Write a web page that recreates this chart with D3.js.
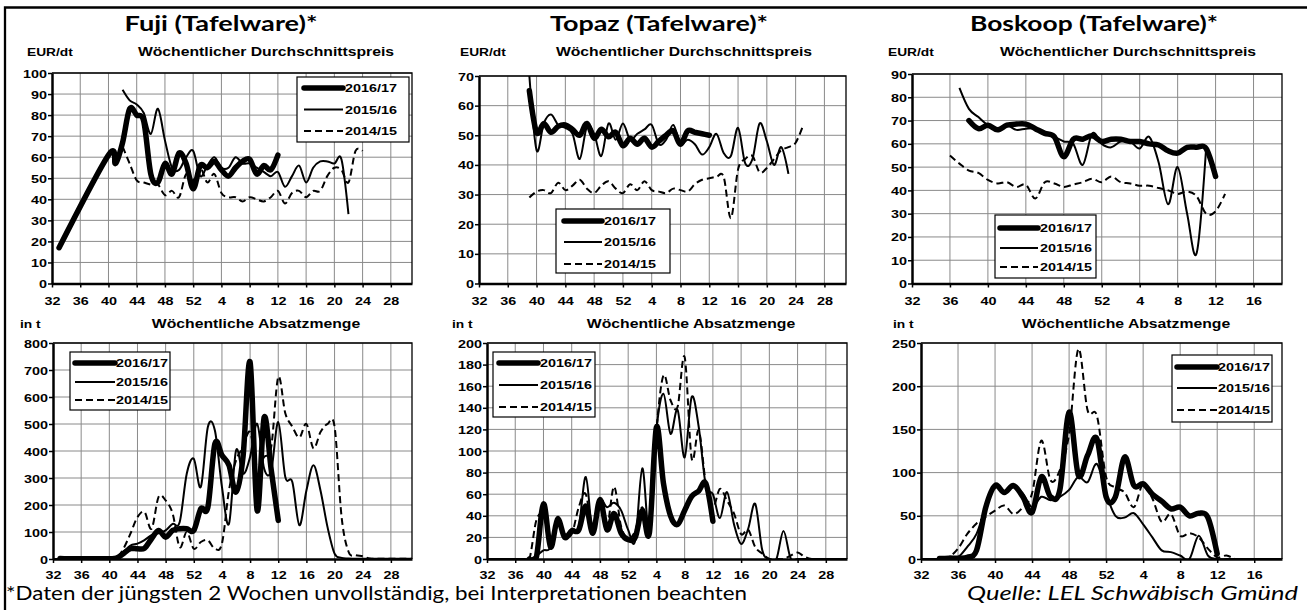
<!DOCTYPE html>
<html><head><meta charset="utf-8">
<script src="https://cdn.jsdelivr.net/npm/d3@7/dist/d3.min.js"></script>
<style>body{margin:0;background:#fff}svg{display:block}</style>
</head><body>
<svg id="c" width="1307" height="610"></svg>
<script>
// ---------- categories (calendar weeks) ----------
const weeksLong  = [32,33,34,35,36,37,38,39,40,41,42,43,44,45,46,47,48,49,50,51,52,1,2,3,4,5,6,7,8,9,10,11,12,13,14,15,16,17,18,19,20,21,22,23,24,25,26,27,28,29,30,31];
const weeksShort = [32,33,34,35,36,37,38,39,40,41,42,43,44,45,46,47,48,49,50,51,52,1,2,3,4,5,6,7,8,9,10,11,12,13,14,15,16,17,18,19];
const ticksLong  = [32,36,40,44,48,52,4,8,12,16,20,24,28];
const ticksShort = [32,36,40,44,48,52,4,8,12,16];
const seasons = ["2016/17","2015/16","2014/15"];

// ---------- Fuji price (EUR/dt), each series starts at the given week ----------
const fujiPrice1617Start = 33;
const fujiPrice1617 = [17,null,null,null,null,null,null,61,57,67,83,80,77,52,48,57,52,62,57,45,56,55,58,54,51,55,58,59,52,56,54,61];
const fujiPrice1516Start = 42;
const fujiPrice1516 = [92,87,85,81,71,83,68,55,54,60,63,51,56,60,55,55,60,57,57,55,53,51,53,46,51,56,48,55,58,58,57,59,33];
const fujiPrice1415Start = 42;
const fujiPrice1415 = [65,57,49,48,47,47,42,44,41,52,49,55,48,52,43,41,41,39,41,40,39,41,44,38,43,44,41,44,44,51,55,54,48,63,63];

// ---------- Topaz price ----------
const topazPrice1617Start = 39;
const topazPrice1617 = [65,51,54,51,53,53.5,52,50,54,49,52,49.5,51,46.5,49,47,49,46,48,50,51.5,47,51.5,51,50.5,50];
const topazPrice1516Start = 39;
const topazPrice1516 = [70,45,54,57,53.5,52.5,50.5,42,53,50.5,43,54,48.5,54,48.5,50.5,52,53.5,47,48.5,53.5,47,48.5,47,43.5,46,50.5,44,43,52.5,40.5,42,54,48,40,46,37];
const topazPrice1415Start = 39;
const topazPrice1415 = [29,31,31.5,30.5,34,31.5,33,35,32,30.5,33,34.5,32,30.5,33.5,31.5,34.5,31.5,31,30.5,32,31.5,31,33.5,35,35.5,36,36,22,38.5,42,43,37.5,39,42,45,46,47.5,53];

// ---------- Boskoop price ----------
const boskPrice1617Start = 38;
const boskPrice1617 = [70,66.5,68,66,68,68.5,68.5,66.5,64.5,63,54.5,62,62,63.5,61,62,62,61,61,60,59.5,57,56,58.5,58.5,58,46];
const boskPrice1516Start = 37;
const boskPrice1516 = [84,75,71.5,68,66.5,68,66,66.5,66.5,64.5,63,61,60,51,64.5,60,58.5,61,61,58,63,52,34,50,30,13,58];
const boskPrice1415Start = 36;
const boskPrice1415 = [55,51.5,48.5,47.5,44.5,43,43.5,41.5,42.5,36.5,43.5,43,41.5,42.5,43.5,45,43.5,46,43.5,43,42,42,41,40,38.5,39.5,37.5,30,31,38.5];

// ---------- Fuji volume (t) ----------
const fujiVol1617Start = 33;
const fujiVol1617 = [2,1,1,1,1,1,1,1,3,20,38,38,40,75,106,81,106,112,112,106,186,192,427,384,347,248,380,729,180,525,330,143];
const fujiVol1516Start = 32;
const fujiVol1516 = [0,0,0,0,0,0,0,0,0,2,26,50,57,70,88,95,106,130,137,316,371,267,489,476,267,130,402,316,378,501,334,328,507,304,285,125,254,347,254,118,20,4,2,1,1,1,1,1,1,1,1,1];
const fujiVol1415Start = 32;
const fujiVol1415 = [0,0,0,0,0,0,0,0,0,3,38,94,155,174,112,230,217,168,44,100,38,63,69,38,57,254,365,415,470,340,378,415,674,540,490,450,500,410,470,500,490,155,26,14,10,2,1,1,1,1,1,1];

// ---------- Topaz volume ----------
const topazVol1617Start = 38;
const topazVol1617 = [0,2,51,11,37,20,26,27,49,24,55,27,42,24,18,20,45,24,122,70,40,32,45,58,63,70,35];
const topazVol1516Start = 32;
const topazVol1516 = [0,0,0,0,0,0,0,3,8,11,39,22,28,30,76,23,54,48,52,45,27,17,84,25,119,153,116,138,94,150,122,68,60,38,62,32,14,28,51,8,0,0,26,1,0,0,0,0,0,0,0,0];
const topazVol1415Start = 32;
const topazVol1415 = [0,0,0,0,0,0,0,36,40,17,30,23,23,48,60,23,51,30,67,30,19,26,48,23,119,170,147,141,187,93,119,70,48,65,54,42,23,27,11,5,0,0,0,3,6,2,0,0,0,0,0,0];

// ---------- Boskoop volume ----------
const boskVol1617Start = 34;
const boskVol1617 = [0.5,1,1,2,10,60,85,77,85,72,54,95,72,80,170,97,120,139,72,72,118,85,87,75,67,58,60,50,53,48,6];
const boskVol1516Start = 32;
const boskVol1516 = [0,0,0,0,2,14,29,60,83,77,83,76,60,72,68,72,80,95,89,110,75,50,48,53,40,25,10,8,4,0,27,4,0,0,0,0,0,0,0,0];
const boskVol1415Start = 32;
const boskVol1415 = [0,0,0,2,12,29,41,49,56,62,52,60,76,137,91,103,145,243,172,166,95,83,77,60,87,70,43,52,27,30,25,12,2,4,0,0,0,0,0,0];

// ---------- drawing ----------
const svg = d3.select('#c');
const FA = "'Liberation Sans', Arial, sans-serif";
const SX = 1.25; // horizontal stretch of the chart lettering
const styles = [
  {w:5.5, dash:null},
  {w:2, dash:null},
  {w:2, dash:"7,4"}
];

function stext(parent, x, y, txt, size, anchor, weight) {
  return parent.append('text')
    .attr('transform', `translate(${x},${y}) scale(${SX},1)`)
    .attr('text-anchor', anchor || 'start')
    .style('font-family', FA).style('font-weight', weight || 'bold')
    .style('font-size', size + 'px').attr('fill', '#000').text(txt);
}

function toPoints(cats, start, vals) {
  const i0 = cats.indexOf(start);
  const pts = [];
  vals.forEach((v, k) => { if (v !== null) pts.push([cats[i0 + k], v]); });
  return pts;
}

let clipId = 0;
function panel(c) {
  const g = svg.append('g');
  const x = d3.scalePoint().domain(c.cats).range([c.left, c.right]);
  const y = d3.scaleLinear().domain([0, c.yMax]).range([c.bottom, c.top]);
  const yt = d3.range(0, c.yMax + 0.001, c.yStep);

  // gridlines
  g.append('g').selectAll('line.h').data(yt.filter(v => v > 0)).join('line')
    .attr('x1', c.left).attr('x2', c.right).attr('y1', d => y(d)).attr('y2', d => y(d))
    .attr('stroke', '#8a8a8a').attr('stroke-width', 1);
  g.append('g').selectAll('line.v').data(c.ticks.slice(1)).join('line')
    .attr('x1', d => x(d)).attr('x2', d => x(d)).attr('y1', c.top).attr('y2', c.bottom)
    .attr('stroke', '#8a8a8a').attr('stroke-width', 1);
  // top / right frame
  g.append('path').attr('d', `M${c.left},${c.top}H${c.right}V${c.bottom}`)
    .attr('fill', 'none').attr('stroke', '#000').attr('stroke-width', 1.3);

  // series
  const id = 'clip' + (clipId++);
  g.append('clipPath').attr('id', id).append('rect')
    .attr('x', c.left).attr('y', c.top).attr('width', c.right - c.left).attr('height', c.bottom - c.top);
  const line = d3.line().x(d => x(d[0])).y(d => y(d[1])).curve(d3.curveCardinal.tension(0));
  const sg = g.append('g').attr('clip-path', `url(#${id})`);
  c.series.forEach((s, i) => {
    sg.append('path').attr('d', line(toPoints(c.cats, s.start, s.vals)))
      .attr('fill', 'none').attr('stroke', '#000')
      .attr('stroke-width', styles[i].w).attr('stroke-dasharray', styles[i].dash)
      .attr('stroke-linejoin', 'round').attr('stroke-linecap', i === 0 ? 'round' : 'butt');
  });

  // axes
  const ya = g.append('g').attr('transform', `translate(${c.left},0)`)
    .call(d3.axisLeft(y).tickValues(yt).tickSize(4).tickSizeOuter(0).tickFormat(d3.format('d')));
  ya.select('.domain').attr('stroke', '#000').attr('stroke-width', 2.5);
  ya.selectAll('.tick line').attr('stroke', '#000').attr('stroke-width', 1.5);
  ya.selectAll('.tick text').attr('x', null).attr('dy', null)
    .attr('transform', `translate(-5,4) scale(${SX},1)`)
    .style('font-family', FA).style('font-weight', 'bold').style('font-size', '11.5px').attr('fill', '#000');
  const xa = g.append('g').attr('transform', `translate(0,${c.bottom})`)
    .call(d3.axisBottom(x).tickValues(c.ticks).tickSize(4).tickSizeOuter(0));
  xa.select('.domain').attr('stroke', '#000').attr('stroke-width', 2.5);
  xa.selectAll('.tick line').attr('stroke', '#000').attr('stroke-width', 1.5);
  xa.selectAll('.tick text').attr('y', null).attr('dy', null)
    .attr('transform', `translate(0,${c.labelDy}) scale(${SX},1)`)
    .style('font-family', FA).style('font-weight', 'bold').style('font-size', '11.5px').attr('fill', '#000');

  // legend
  const L = c.legend;
  const lg = g.append('g');
  lg.append('rect').attr('x', L.x).attr('y', L.y).attr('width', L.w).attr('height', L.h)
    .attr('fill', '#fff').attr('stroke', '#000').attr('stroke-width', 1.2);
  seasons.forEach((s, i) => {
    lg.append('line').attr('x1', L.lx1).attr('x2', L.lx2).attr('y1', L.rows[i]).attr('y2', L.rows[i])
      .attr('stroke', '#000').attr('stroke-width', styles[i].w).attr('stroke-dasharray', styles[i].dash)
      .attr('stroke-linecap', i === 0 ? 'round' : 'butt');
    stext(lg, L.tx, L.rows[i] + 4.2, s, 11.5, 'start');
  });

  // unit + subtitle
  stext(g, c.unit[0], c.unit[1], c.unit[2], 11, 'start');
  stext(g, c.sub[0], c.sub[1], c.sub[2], 12.6, 'middle');
}

const PT = "Wöchentlicher Durchschnittspreis", VT = "Wöchentliche Absatzmenge";

panel({left:52, right:412, top:73, bottom:283.5, cats:weeksLong, ticks:ticksLong, yMax:100, yStep:10, labelDy:21,
  series:[{start:fujiPrice1617Start, vals:fujiPrice1617},{start:fujiPrice1516Start, vals:fujiPrice1516},{start:fujiPrice1415Start, vals:fujiPrice1415}],
  legend:{x:297, y:77, w:112, h:65, rows:[88,109.5,131], lx1:304, lx2:343, tx:345},
  unit:[27,56,"EUR/dt"], sub:[266,56,PT]});
panel({left:479, right:846, top:76, bottom:283.5, cats:weeksLong, ticks:ticksLong, yMax:70, yStep:10, labelDy:21,
  series:[{start:topazPrice1617Start, vals:topazPrice1617},{start:topazPrice1516Start, vals:topazPrice1516},{start:topazPrice1415Start, vals:topazPrice1415}],
  legend:{x:556, y:209, w:114, h:64, rows:[221,242,264], lx1:564, lx2:602, tx:604},
  unit:[460,56,"EUR/dt"], sub:[684,56,PT]});
panel({left:912, right:1282, top:74, bottom:283.5, cats:weeksShort, ticks:ticksShort, yMax:90, yStep:10, labelDy:21,
  series:[{start:boskPrice1617Start, vals:boskPrice1617},{start:boskPrice1516Start, vals:boskPrice1516},{start:boskPrice1415Start, vals:boskPrice1415}],
  legend:{x:995, y:215, w:101, h:63, rows:[228,248,267], lx1:1000, lx2:1038, tx:1040},
  unit:[888,56,"EUR/dt"], sub:[1128,56,PT]});
panel({left:53, right:412, top:343, bottom:559, cats:weeksLong, ticks:ticksLong, yMax:800, yStep:100, labelDy:20,
  series:[{start:fujiVol1617Start, vals:fujiVol1617},{start:fujiVol1516Start, vals:fujiVol1516},{start:fujiVol1415Start, vals:fujiVol1415}],
  legend:{x:70, y:352, w:100, h:58, rows:[363,382,400], lx1:75, lx2:115, tx:116},
  unit:[20,328,"in t"], sub:[256,328,VT]});
panel({left:487, right:847, top:343, bottom:559, cats:weeksLong, ticks:ticksLong, yMax:200, yStep:20, labelDy:20,
  series:[{start:topazVol1617Start, vals:topazVol1617},{start:topazVol1516Start, vals:topazVol1516},{start:topazVol1415Start, vals:topazVol1415}],
  legend:{x:493, y:352, w:102, h:65, rows:[363,385,407], lx1:499, lx2:538, tx:540},
  unit:[452,328,"in t"], sub:[691,328,VT]});
panel({left:921, right:1282, top:343, bottom:559, cats:weeksShort, ticks:ticksShort, yMax:250, yStep:50, labelDy:20,
  series:[{start:boskVol1617Start, vals:boskVol1617},{start:boskVol1516Start, vals:boskVol1516},{start:boskVol1415Start, vals:boskVol1415}],
  legend:{x:1172, y:355, w:100, h:67, rows:[367,388,410], lx1:1177, lx2:1217, tx:1218},
  unit:[893,328,"in t"], sub:[1126,328,VT]});

// titles
const titles = [["Fuji (Tafelware)*",221,193],["Topaz (Tafelware)*",659,218],["Boskoop (Tafelware)*",1094,248]];
titles.forEach(t => svg.append('text').attr('x', t[1]).attr('y', 31).attr('text-anchor', 'middle')
  .style('font-family', 'Lato, sans-serif').style('font-weight', 'bold').style('font-size', '21px')
  .attr('textLength', t[2]).attr('lengthAdjust', 'spacingAndGlyphs').text(t[0]));

// footnotes
svg.append('text').attr('x', 6).attr('y', 600)
  .style('font-family', 'Lato, sans-serif').style('font-size', '18.5px')
  .attr('textLength', 741).attr('lengthAdjust', 'spacingAndGlyphs')
  .text("*Daten der jüngsten 2 Wochen unvollständig, bei Interpretationen beachten");
svg.append('text').attr('x', 967).attr('y', 600)
  .style('font-family', 'Lato, sans-serif').style('font-size', '18.5px').style('font-style', 'italic')
  .attr('textLength', 331).attr('lengthAdjust', 'spacingAndGlyphs')
  .text("Quelle: LEL Schwäbisch Gmünd");

// outer frame (top and left edges)
svg.append('path').attr('d', 'M5,610V7.5H1307').attr('fill', 'none').attr('stroke', '#000').attr('stroke-width', 2.3);
</script>
</body></html>
